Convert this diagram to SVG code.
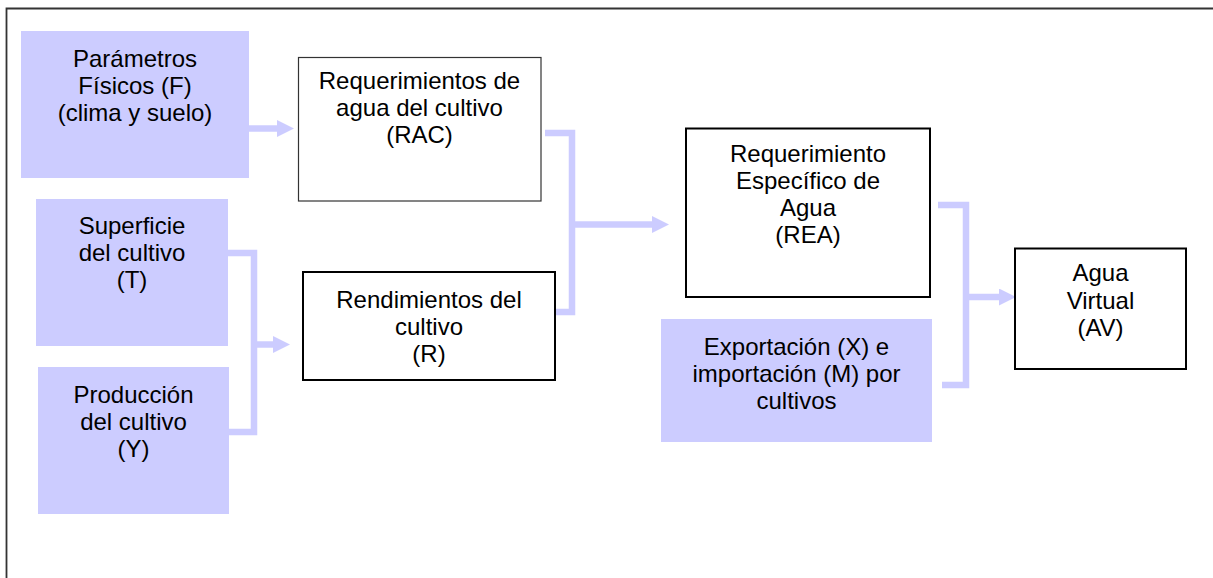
<svg xmlns="http://www.w3.org/2000/svg" width="1213" height="578" viewBox="0 0 1213 578">
<style>
  text { font-family: "Liberation Sans", Arial, sans-serif; font-size: 24px; fill: #000; text-anchor: middle; }
  .blue { fill: #ccccff; stroke: none; }
  .white { fill: #ffffff; stroke: #000; stroke-width: 2; }
  .thin { fill: #ffffff; stroke: #333; stroke-width: 1.2; }
  .conn { fill: none; stroke: #ccccff; stroke-width: 6.5; stroke-linejoin: miter; }
  .arrow { fill: none; stroke: #ccccff; stroke-width: 6.5; marker-end: url(#head); }
</style>
<defs>
  <marker id="head" viewBox="0 0 17 17" refX="0" refY="8.5" markerWidth="17" markerHeight="17" markerUnits="userSpaceOnUse" orient="auto">
    <polygon points="0,0 17,8.5 0,17" fill="#ccccff"/>
  </marker>
</defs>
<rect x="0" y="0" width="1213" height="578" fill="#ffffff"/>
<path d="M6.5,578 V8.5 H1213" fill="none" stroke="#333" stroke-width="1.8"/>

<g id="connectors">
  <line class="arrow" x1="249" y1="128.5" x2="277" y2="128.5"/>
  <polyline class="conn" points="228,253 254,253 254,432 229,432"/>
  <line class="arrow" x1="254" y1="344.5" x2="273" y2="344.5"/>
  <polyline class="conn" points="545,133 572,133 572,312 548,312"/>
  <line class="arrow" x1="572" y1="224.5" x2="652" y2="224.5"/>
  <polyline class="conn" points="938,205 966,205 966,385 942,385"/>
  <line class="arrow" x1="966" y1="297" x2="999" y2="297"/>
</g>

<g id="parametros">
  <rect class="blue" x="21" y="31" width="228" height="147"/>
  <text x="135" y="67">Parámetros</text>
  <text x="135" y="94">Físicos (F)</text>
  <text x="135" y="121">(clima y suelo)</text>
</g>

<g id="superficie">
  <rect class="blue" x="36" y="199" width="192" height="147"/>
  <text x="132" y="234">Superficie</text>
  <text x="132" y="261">del cultivo</text>
  <text x="132" y="288">(T)</text>
</g>

<g id="produccion">
  <rect class="blue" x="38" y="367" width="191" height="147"/>
  <text x="133.5" y="403">Producción</text>
  <text x="133.5" y="430">del cultivo</text>
  <text x="133.5" y="457">(Y)</text>
</g>

<g id="rac">
  <rect class="thin" x="298.5" y="57.5" width="242.5" height="143.5"/>
  <text x="419.5" y="89">Requerimientos de</text>
  <text x="419.5" y="116">agua del cultivo</text>
  <text x="419.5" y="143">(RAC)</text>
</g>

<g id="rendimientos">
  <rect class="white" x="303" y="272" width="252" height="108"/>
  <text x="429" y="308">Rendimientos del</text>
  <text x="429" y="335">cultivo</text>
  <text x="429" y="362">(R)</text>
</g>

<g id="rea">
  <rect class="white" x="686" y="128.5" width="244" height="168.5"/>
  <text x="808" y="162">Requerimiento</text>
  <text x="808" y="189">Específico de</text>
  <text x="808" y="216">Agua</text>
  <text x="808" y="243">(REA)</text>
</g>

<g id="exportacion">
  <rect class="blue" x="661" y="319" width="271" height="123"/>
  <text x="796.5" y="355">Exportación (X) e</text>
  <text x="796.5" y="382">importación (M) por</text>
  <text x="796.5" y="409">cultivos</text>
</g>

<g id="av">
  <rect class="white" x="1015" y="248.5" width="171" height="120.5"/>
  <text x="1100.5" y="281">Agua</text>
  <text x="1100.5" y="308.5">Virtual</text>
  <text x="1100.5" y="336">(AV)</text>
</g>
</svg>
